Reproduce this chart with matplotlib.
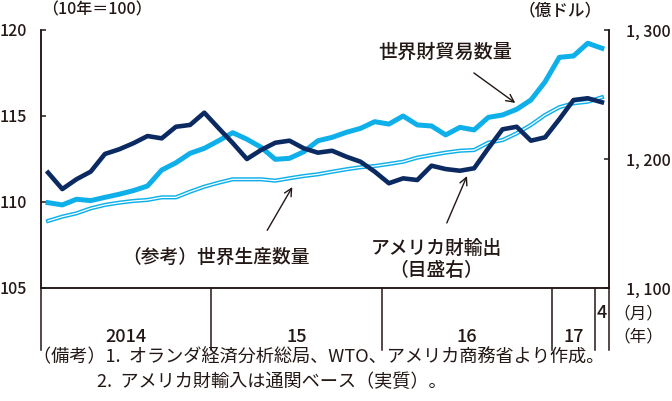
import matplotlib
matplotlib.use("Agg")
import matplotlib.pyplot as plt
from matplotlib.transforms import blended_transform_factory

plt.rcParams['font.family'] = ['Noto Sans CJK JP', 'DejaVu Sans']

# ---- data: Jan 2014 .. Apr 2017 (monthly) ----
months = list(range(40))
world_trade = [109.96, 109.83, 110.16, 110.08, 110.27, 110.45, 110.66, 110.93, 111.86, 112.28,
               112.83, 113.12, 113.56, 114.03, 113.65, 113.18, 112.48, 112.54, 112.92, 113.56,
               113.76, 114.05, 114.28, 114.67, 114.53, 115.00, 114.48, 114.42, 113.90, 114.34,
               114.19, 114.92, 115.06, 115.39, 115.93, 116.99, 118.41, 118.49, 119.23, 118.94]
world_prod = [108.90, 109.15, 109.34, 109.63, 109.83, 109.96, 110.06, 110.12, 110.27, 110.27,
              110.60, 110.89, 111.12, 111.32, 111.32, 111.32, 111.24, 111.38, 111.51, 111.61,
              111.76, 111.90, 112.02, 112.09, 112.21, 112.34, 112.58, 112.73, 112.87, 112.98,
              113.02, 113.45, 113.60, 113.99, 114.48, 115.06, 115.51, 115.74, 115.83, 116.09]
us_exports = [1189.4, 1176.7, 1184.3, 1190.2, 1203.9, 1207.5, 1212.2, 1217.8, 1216.0, 1225.0,
              1226.4, 1235.9, 1224.0, 1212.4, 1200.0, 1207.0, 1212.6, 1214.2, 1208.3, 1204.9,
              1206.4, 1201.8, 1197.9, 1190.2, 1181.2, 1185.0, 1183.7, 1194.8, 1192.2, 1190.9,
              1192.8, 1208.3, 1223.0, 1225.0, 1214.2, 1216.8, 1230.8, 1245.7, 1247.1, 1244.0]
left_ticks = [105, 110, 115, 120]
right_ticks = [1100, 1200, 1300]
right_labels = ['1, 100', '1, 200', '1, 300']
year_bounds = [11.5, 23.5, 35.5, 38.5]
year_labels = ['2014', '15', '16', '17']
year_centers = [5.5, 17.5, 29.5, 37.0]

W, H = 672, 401
INK = '#231815'
CYAN = '#0fb0ea'
NAVY = '#0c2a62'

fig = plt.figure(figsize=(W / 100, H / 100), dpi=100)
L, R, T, B = 41, 609, 30, 288
ax = fig.add_axes([L / W, 1 - B / H, (R - L) / W, (B - T) / H])
ax2 = ax.twinx()

ax.plot(months, world_prod, color=CYAN, lw=3.0, zorder=2)
ax.plot(months, world_prod, color='white', lw=0.9, zorder=3)
ax.plot(months, world_trade, color=CYAN, lw=3.6, zorder=4)
ax2.plot(months, us_exports, color=NAVY, lw=3.3, zorder=5)

ax.set_xlim(-0.5, 39.5)
ax.set_ylim(105, 120)
ax2.set_ylim(1100, 1300)
ax.set_xticks([])
ax.set_yticks(left_ticks)
ax.set_yticklabels([str(t) for t in left_ticks])
ax2.set_yticks(right_ticks)
ax2.set_yticklabels(right_labels)

for a in (ax, ax2):
    a.spines['top'].set_visible(False)
    for s in ('left', 'right', 'bottom'):
        a.spines[s].set_color(INK)
        a.spines[s].set_linewidth(1.1)
ax.tick_params(axis='y', direction='in', length=3.5, width=1.1, color=INK,
               labelsize=11.5, labelcolor=INK, pad=10)
ax2.tick_params(axis='y', direction='in', length=3.5, width=1.1, color=INK,
                labelsize=11.5, labelcolor=INK, pad=12)
for lab in ax.get_yticklabels() + ax2.get_yticklabels():
    lab.set_fontweight('medium')

# bottom date box
tr = blended_transform_factory(ax.transData, ax.transAxes)
ybot = -62 / 258
for xb in [-0.5] + year_bounds + [39.5]:
    ax.plot([xb, xb], [0, ybot], transform=tr, color=INK, lw=1.1, clip_on=False)
for xc, lab in zip(year_centers, year_labels):
    ax.text(xc, -49 / 258, lab, transform=tr, ha='center', va='center',
            fontsize=13, fontweight='medium', color=INK)
ax.text(39.0, -25 / 258, '4', transform=tr, ha='center', va='center', fontsize=13,
        fontweight='medium', color=INK)

def fx(x, y):
    return (x / W, 1 - y / H)

fig.text(*fx(638, 314), '（月）', ha='center', va='center', fontsize=12, color=INK)
fig.text(*fx(638, 337), '（年）', ha='center', va='center', fontsize=12, color=INK)
fig.text(*fx(97, 10), '（10年＝100）', ha='center', va='center', fontsize=11.5,
         fontweight='medium', color=INK)
fig.text(*fx(560, 10), '（億ドル）', ha='center', va='center', fontsize=12,
         fontweight='medium', color=INK)

# annotations
ax.annotate('世界財貿易数量', xy=(32.9, 115.76), xycoords='data',
            xytext=fx(445, 52), textcoords='figure fraction', ha='center', va='center',
            fontsize=13.8, fontweight='medium', color=INK,
            arrowprops=dict(arrowstyle='->', color=INK, lw=1.0, shrinkA=10, shrinkB=0))
ax.annotate('（参考）世界生産数量', xy=(17.2, 110.87), xycoords='data',
            xytext=fx(216, 257), textcoords='figure fraction', ha='center', va='center',
            fontsize=13.5, fontweight='medium', color=INK,
            arrowprops=dict(arrowstyle='->', color=INK, lw=1.0, shrinkA=12, shrinkB=0,
                            relpos=(0.72, 1.0)))
ax2.annotate('アメリカ財輸出', xy=(29.5, 1186.8), xycoords='data',
             xytext=fx(436, 248), textcoords='figure fraction', ha='center', va='center',
             fontsize=13.5, fontweight='medium', color=INK,
             arrowprops=dict(arrowstyle='->', color=INK, lw=1.0, shrinkA=10, shrinkB=0))
fig.text(*fx(436, 271), '（目盛右）', ha='center', va='center', fontsize=13.5,
         fontweight='medium', color=INK)

# notes
fig.text(*fx(33, 357), '（備考）1.  オランダ経済分析総局、WTO、アメリカ商務省より作成。',
         ha='left', va='center', fontsize=13.1, color=INK)
fig.text(*fx(97, 382), '2.  アメリカ財輸入は通関ベース（実質）。',
         ha='left', va='center', fontsize=13.1, color=INK)

fig.savefig('out.png', dpi=100)
